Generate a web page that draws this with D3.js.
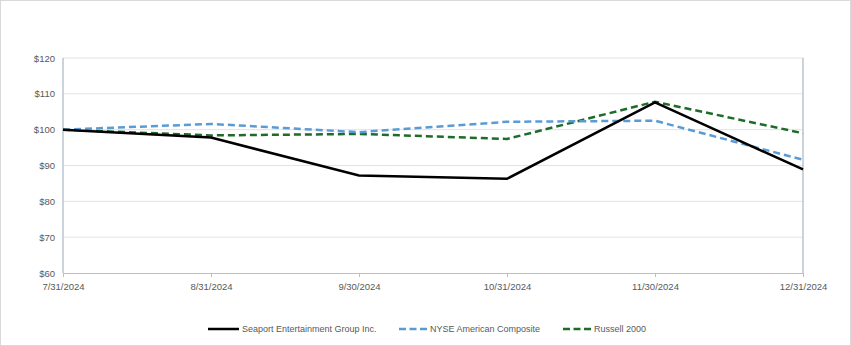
<!DOCTYPE html>
<html><head><meta charset="utf-8">
<script src="https://cdn.jsdelivr.net/npm/d3@7"></script>
<style>
body{margin:0;background:#fff;}
svg{display:block;font-family:"Liberation Sans",Arial,sans-serif;}
</style></head>
<body>
<svg id="c" width="851" height="346"></svg>
<script>
const dates = ["7/31/2024","8/31/2024","9/30/2024","10/31/2024","11/30/2024","12/31/2024"];
const seaport = [100, 97.8, 87.2, 86.3, 107.6, 88.9];
const nyse = [100, 101.6, 99.3, 102.2, 102.5, 91.6];
const russell = [100, 98.4, 98.8, 97.4, 107.8, 99.0];
const yTicks = [60,70,80,90,100,110,120];
const seriesNames = ["Seaport Entertainment Group Inc.","NYSE American Composite","Russell 2000"];

const series = [
  {name: seriesNames[0], values: seaport, color: "#000000", dash: null},
  {name: seriesNames[1], values: nyse, color: "#5b9bd5", dash: "7,4"},
  {name: seriesNames[2], values: russell, color: "#1f6b2a", dash: "7,4"}
];

const svg = d3.select("#c");
svg.append("rect").attr("x",0.5).attr("y",0.5).attr("width",850).attr("height",345)
  .attr("fill","#fff").attr("stroke","#d9d9d9");

const L=63, R=803, T=58, B=273;
const x = d3.scalePoint().domain(dates).range([L,R]);
const y = d3.scaleLinear().domain([60,120]).range([B,T]);

svg.append("g").selectAll("line").data(yTicks.filter(d=>d>60)).join("line")
  .attr("x1",L).attr("x2",R).attr("y1",d=>y(d)).attr("y2",d=>y(d))
  .attr("stroke","#e3e3e3").attr("stroke-width",1);

svg.append("line").attr("x1",L).attr("x2",L).attr("y1",T).attr("y2",B).attr("stroke","#a9b7c2").attr("stroke-width",1.2);
svg.append("line").attr("x1",R).attr("x2",R).attr("y1",T).attr("y2",B).attr("stroke","#a9b7c2").attr("stroke-width",1.2);

const ya = svg.append("g").attr("transform",`translate(${L},0)`)
  .call(d3.axisLeft(y).tickValues(yTicks).tickSize(0).tickPadding(8).tickFormat(d=>"$"+d));
ya.select(".domain").remove();
ya.selectAll("text").attr("fill","#595959").style("font-size","9.5px");

const xa = svg.append("g").attr("transform",`translate(0,${B})`)
  .call(d3.axisBottom(x).tickSize(4).tickPadding(6));
xa.select(".domain").attr("stroke","#bfbfbf");
xa.selectAll(".tick line").attr("stroke","#bfbfbf");
xa.selectAll("text").attr("fill","#595959").style("font-size","9.5px");

const line = d3.line().x((d,i)=>x(dates[i])).y(d=>y(d));
svg.append("g").selectAll("path").data(series.slice().reverse()).join("path")
  .attr("d",d=>line(d.values)).attr("fill","none")
  .attr("stroke",d=>d.color).attr("stroke-width",2.5)
  .attr("stroke-dasharray",d=>d.dash);

const legX = [208, 399, 563];
const lg = svg.append("g").selectAll("g").data(series).join("g")
  .attr("transform",(d,i)=>`translate(${legX[i]},329)`);
lg.append("line").attr("x1",0).attr("x2",d=>d.dash?28:31).attr("y1",0).attr("y2",0)
  .attr("stroke",d=>d.color).attr("stroke-width",2.5)
  .attr("stroke-dasharray",d=>d.dash ? "7,3.5" : null);
lg.append("text").attr("x",d=>d.dash?31:34).attr("y",3.2).attr("fill","#595959").style("font-size","9px").text(d=>d.name);
</script>
</body></html>
